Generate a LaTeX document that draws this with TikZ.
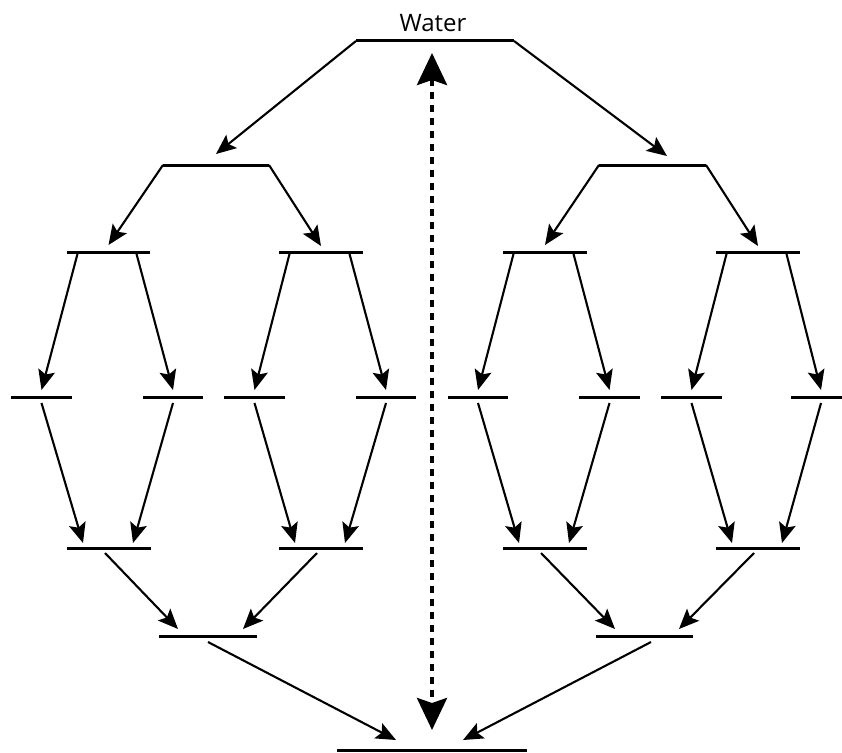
\documentclass[tikz,border=0pt]{standalone}
\usepackage{fontspec}
\setmainfont{Open Sans}
\usetikzlibrary{arrows.meta,calc}
\begin{document}
\begin{tikzpicture}[x=1pt,y=-1pt,
  bar/.style={inner sep=0pt, outer sep=0pt, minimum height=0pt, minimum width=#1},
  barline/.style={line width=3pt},
  link/.style={line width=2.1pt, -{Stealth[length=20pt,width=17pt,inset=4pt]}},
  exchange/.style={line width=4pt, dash pattern=on 7pt off 6pt,
    {Stealth[length=32pt,width=30pt,inset=5pt]}-{Stealth[length=32pt,width=30pt,inset=5pt]}}
]
\useasboundingbox (0,0) rectangle (842,752);
\clip (0,0) rectangle (842,752);

% label
\node[font=\fontsize{24}{28}\selectfont] (lbl) at (433,23) {Water};

% bars: top, five branching levels, bottom
\node[bar=158] (T)   at (435,41)   {};
\node[bar=106] (L1a) at (216,165)  {};
\node[bar=107] (L1b) at (652.5,165) {};
\node[bar=83]  (L2a) at (108.5,252) {};
\node[bar=84]  (L2b) at (321,252)  {};
\node[bar=84]  (L2c) at (545,252)  {};
\node[bar=84]  (L2d) at (758,252)  {};
\node[bar=61]  (L3a) at (41.5,397) {};
\node[bar=60]  (L3b) at (173,397)  {};
\node[bar=61]  (L3c) at (254.5,397) {};
\node[bar=60]  (L3d) at (386,397)  {};
\node[bar=60]  (L3e) at (478,397)  {};
\node[bar=61]  (L3f) at (609.5,397) {};
\node[bar=61]  (L3g) at (691.5,397) {};
\node[bar=60]  (L3h) at (821,397)  {};
\node[bar=84]  (L4a) at (109,548)  {};
\node[bar=84]  (L4b) at (321,548)  {};
\node[bar=84]  (L4c) at (545,548)  {};
\node[bar=84]  (L4d) at (758,548)  {};
\node[bar=98]  (L5a) at (208,636)  {};
\node[bar=97]  (L5b) at (644.5,636) {};
\node[bar=190] (B)   at (432,750)  {};

\foreach \n in {T,L1a,L1b,L2a,L2b,L2c,L2d,L3a,L3b,L3c,L3d,L3e,L3f,L3g,L3h,L4a,L4b,L4c,L4d,L5a,L5b,B}
  \draw[barline] (\n.west) -- (\n.east);

% top split
\draw[link] (T.west) -- ($(L1a.center)+(0,-11)$);
\draw[link] (T.east) -- ($(L1b.center)+(14.5,-9)$);

% second split
\draw[link] (L1a.west) -- ($(L2a.center)+(0,-7)$);
\draw[link] (L1a.east) -- ($(L2b.center)+(0,-6)$);
\draw[link] (L1b.west) -- ($(L2c.center)+(0,-7)$);
\draw[link] (L1b.east) -- ($(L2d.center)+(0,-6)$);

% third split
\foreach \p/\l/\r in {L2a/L3a/L3b, L2b/L3c/L3d, L2c/L3e/L3f, L2d/L3g/L3h}{
  \draw[link] ($(\p.west)+(11,0)$) -- ($(\l.center)+(0,-7)$);
  \draw[link] ($(\p.east)+(-14,0)$) -- ($(\r.center)+(0,-7)$);
}

% first merge
\foreach \l/\r/\c in {L3a/L3b/L4a, L3c/L3d/L4b, L3e/L3f/L4c, L3g/L3h/L4d}{
  \draw[link] ($(\l.center)+(0,6)$) -- ($(\c.west)+(16,-5)$);
  \draw[link] ($(\r.center)+(0,6)$) -- ($(\c.east)+(-18,-5)$);
}

% second merge
\foreach \l/\r/\c in {L4a/L4b/L5a, L4c/L4d/L5b}{
  \draw[link] ($(\l.center)+(-4,5)$) -- ($(\c.west)+(19,-7)$);
  \draw[link] ($(\r.center)+(-4,5)$) -- ($(\c.east)+(-14,-7)$);
}

% final merge
\draw[link] ($(L5a.center)+(0,6)$) -- ($(B.center)+(-36,-10)$);
\draw[link] ($(L5b.center)+(6.5,6)$) -- ($(B.center)+(31,-10)$);

% exchange between top and bottom
\coordinate (up) at ($(T.center)+(-3,12)$);
\coordinate (down) at ($(B.center)+(0,-20)$);
\draw[exchange] (up) -- (down);
\end{tikzpicture}
\end{document}
